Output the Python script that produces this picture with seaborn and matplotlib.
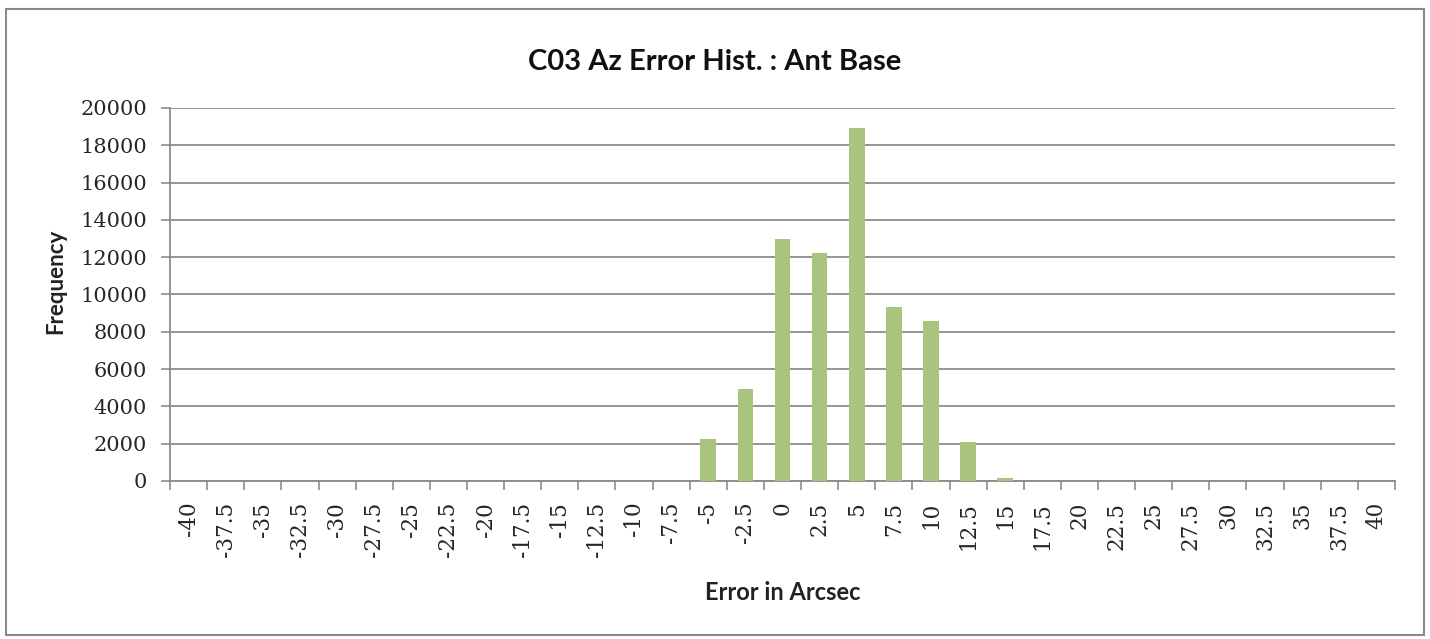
import matplotlib
matplotlib.use("Agg")
import matplotlib.pyplot as plt
from matplotlib.patches import Rectangle
import seaborn as sns
import pandas as pd
import numpy as np

# Histogram bins (arcsec) and counts
bins = ["-40", "-37.5", "-35", "-32.5", "-30", "-27.5", "-25", "-22.5", "-20",
        "-17.5", "-15", "-12.5", "-10", "-7.5", "-5", "-2.5", "0", "2.5", "5",
        "7.5", "10", "12.5", "15", "17.5", "20", "22.5", "25", "27.5", "30",
        "32.5", "35", "37.5", "40"]
counts = [0, 0, 0, 0, 0, 0, 0, 0, 0,
          0, 0, 0, 0, 0, 2270, 4950, 12970, 12200, 18930,
          9350, 8580, 2090, 180, 0, 0, 0, 0, 0, 0,
          0, 0, 0, 0]
yticks = [0, 2000, 4000, 6000, 8000, 10000, 12000, 14000, 16000, 18000, 20000]

df = pd.DataFrame({"bin": bins, "count": counts})

sns.set_theme(style="white")
plt.rcParams["font.family"] = ["Lato", "DejaVu Sans"]

fig = plt.figure(figsize=(14.3, 6.39), dpi=100)
ax = fig.add_axes([0.1189, 0.2473, 0.8566, 0.5837])

sns.barplot(data=df, x="bin", y="count", order=bins, color="#9bbb59",
            saturation=1, width=0.42, ax=ax, zorder=3)
for p in ax.patches:
    p.set_facecolor("#a9c47f")
    p.set_edgecolor("none")

grid_c = "#8c8c8c"
tick_font = "DejaVu Serif"
ax.set_ylim(0, 20000)
ax.set_xlim(-0.5, len(bins) - 0.5)
ax.set_yticks(yticks)
ax.set_yticklabels([str(v) for v in yticks], family=tick_font, fontsize=15)
ax.yaxis.grid(True, color=grid_c, linewidth=1.3, zorder=0)
ax.set_axisbelow(True)

# category labels centred, tick marks on category boundaries
ax.set_xticks(np.arange(len(bins)))
ax.set_xticklabels(bins, rotation=90, family=tick_font, fontsize=15.5)
ax.set_xticks(np.arange(len(bins) + 1) - 0.5, minor=True)
ax.tick_params(axis="x", which="major", length=0, pad=15)
ax.tick_params(axis="x", which="minor", length=6.5, width=1.2, color=grid_c,
               direction="out", bottom=True)
ax.tick_params(axis="y", which="major", length=6.5, width=1.2, color=grid_c,
               direction="out", left=True, pad=10)

for s in ["top", "right"]:
    ax.spines[s].set_visible(False)
for s in ["left", "bottom"]:
    ax.spines[s].set_color(grid_c)
    ax.spines[s].set_linewidth(1.3)

ax.set_xlabel("Error in Arcsec", fontsize=17, fontweight="bold", labelpad=17,
              color="#222222")
ax.set_ylabel("Frequency", fontsize=16, fontweight="bold", color="#222222")
ax.yaxis.set_label_coords(-0.085, 0.536)

# chart title centred on the whole figure
fig.text(0.5, 0.903, "C03 Az Error Hist. : Ant Base", fontsize=21,
         fontweight="bold", color="#111111", ha="center", va="center")

fig.patches.append(Rectangle((0.004, 0.006), 0.992, 0.98, transform=fig.transFigure,
                             fill=False, edgecolor="#8a8a8a", linewidth=1.5))

fig.savefig("out.png", dpi=100)
